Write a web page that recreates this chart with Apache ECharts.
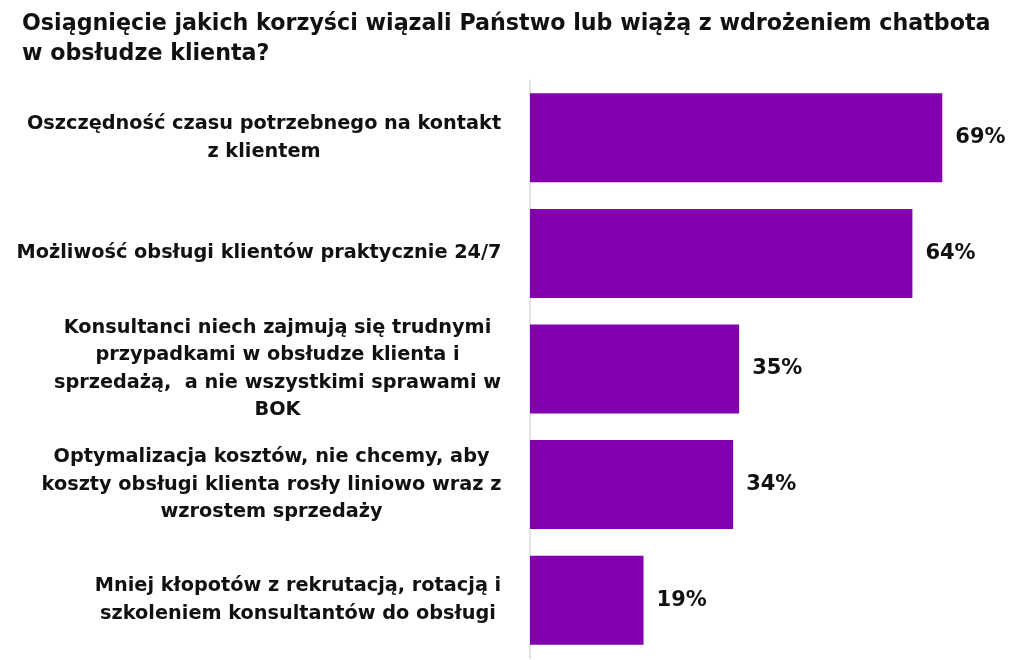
<!DOCTYPE html>
<html><head><meta charset="utf-8">
<script src="https://cdn.jsdelivr.net/npm/echarts@6/dist/echarts.min.js"></script>
<style>html,body{margin:0;padding:0;background:#fff}#c{width:1024px;height:660px}</style>
</head><body><div id="c"></div>
<script>
const titleText = "Osiągnięcie jakich korzyści wiązali Państwo lub wiążą z wdrożeniem chatbota\nw obsłudze klienta?";
const categories = [
  "Oszczędność czasu potrzebnego na kontakt\nz klientem",
  "Możliwość obsługi klientów praktycznie 24/7",
  "Konsultanci niech zajmują się trudnymi\nprzypadkami w obsłudze klienta i\nsprzedażą,  a nie wszystkimi sprawami w\nBOK",
  "Optymalizacja kosztów, nie chcemy, aby\nkoszty obsługi klienta rosły liniowo wraz z\nwzrostem sprzedaży",
  "Mniej kłopotów z rekrutacją, rotacją i\nszkoleniem konsultantów do obsługi"
];
const values = [69, 64, 35, 34, 19];

const FAMILY = 'DejaVu Sans';
const LSIZE = 19.3;
const ctx = document.createElement('canvas').getContext('2d');
ctx.font = 'bold ' + LSIZE + 'px "' + FAMILY + '"';
const rich = {};
categories.forEach((c, i) => {
  const w = Math.max(...c.split('\n').map(l => ctx.measureText(l).width));
  rich['c' + i] = {width: Math.ceil(w) + 1, align: 'center', fontSize: LSIZE, fontWeight: 'bold',
    fontFamily: FAMILY, color: '#111', lineHeight: 27.5};
});

const chart = echarts.init(document.getElementById('c'));
chart.setOption({
  backgroundColor: '#fff',
  animation: false,
  title: {
    text: titleText, left: 17, top: 4,
    textStyle: {fontFamily: FAMILY, fontWeight: 'bold', fontSize: 22.2, lineHeight: 30, color: '#111'}
  },
  grid: {left: 530, right: 16, top: 80, bottom: 2, containLabel: false},
  xAxis: {type: 'value', min: 0, max: 80, show: false},
  yAxis: {
    type: 'category', inverse: true, data: categories,
    axisLine: {show: true, lineStyle: {color: '#d9d9d9', width: 1.5}},
    axisTick: {show: false},
    axisLabel: {
      interval: 0, margin: 28,
      formatter: (v, idx) => v.split('\n').map(l => '{c' + idx + '|' + l + '}').join('\n'),
      rich: rich
    }
  },
  series: [{
    type: 'bar', data: values, barCategoryGap: '23%',
    itemStyle: {color: '#8200b0'},
    label: {show: true, position: 'right', distance: 13, formatter: '{c}%',
      fontFamily: FAMILY, fontWeight: 'bold', fontSize: 21, color: '#111'}
  }]
});
</script>
</body></html>
